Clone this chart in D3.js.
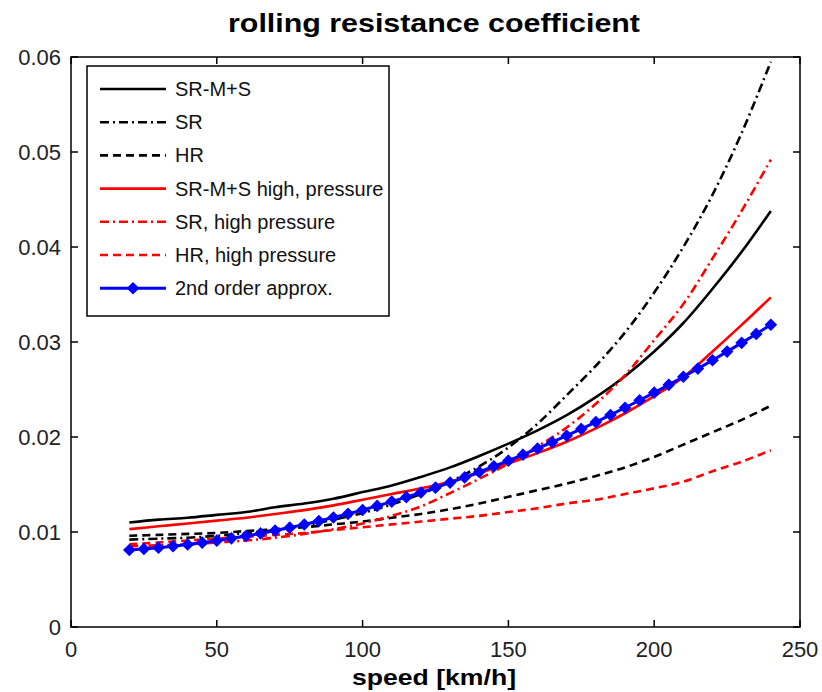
<!DOCTYPE html>
<html>
<head>
<meta charset="utf-8">
<script src="https://cdn.jsdelivr.net/npm/d3@7"></script>
<style>
  body { margin: 0; background: #fff; }
  svg { display: block; }
  text { font-family: "Liberation Sans", Arial, sans-serif; }
</style>
</head>
<body>
<svg id="chart" width="822" height="692"></svg>
<script>
// speed grid for the tyre curves [km/h]
const speeds = [20, 30, 40, 50, 60, 70, 80, 90, 100, 110, 120, 130, 140, 150, 160, 170, 180, 190, 200, 210, 220, 230, 240];

// rolling resistance coefficient per tyre model
const srMS   = [0.0110, 0.0113, 0.0115, 0.0118, 0.0121, 0.0126, 0.0130, 0.0135, 0.0142, 0.0149, 0.0158, 0.0168, 0.0180, 0.0193, 0.0207, 0.0223, 0.0242, 0.0264, 0.0290, 0.0320, 0.0356, 0.0395, 0.0438];
const sr     = [0.0092, 0.0093, 0.0094, 0.0096, 0.0099, 0.0102, 0.0107, 0.0113, 0.0120, 0.0129, 0.0140, 0.0153, 0.0169, 0.0189, 0.0214, 0.0244, 0.0275, 0.0310, 0.0352, 0.0400, 0.0455, 0.0520, 0.0595];
const hr     = [0.0096, 0.0097, 0.0098, 0.0099, 0.0101, 0.0103, 0.0105, 0.0108, 0.0111, 0.0115, 0.0119, 0.0124, 0.0130, 0.0137, 0.0144, 0.0151, 0.0159, 0.0168, 0.0179, 0.0192, 0.0205, 0.0218, 0.0233];
const srMSHp = [0.0103, 0.0106, 0.0109, 0.0112, 0.0115, 0.0119, 0.0123, 0.0128, 0.0134, 0.0140, 0.0146, 0.0153, 0.0162, 0.0172, 0.0183, 0.0195, 0.0209, 0.0225, 0.0243, 0.0263, 0.0290, 0.0318, 0.0347];
const srHp   = [0.0085, 0.0086, 0.0087, 0.0089, 0.0091, 0.0094, 0.0098, 0.0103, 0.0109, 0.0117, 0.0127, 0.0141, 0.0156, 0.0172, 0.0190, 0.0210, 0.0235, 0.0265, 0.0302, 0.0340, 0.0388, 0.0438, 0.0492];
const hrHp   = [0.0087, 0.0089, 0.0091, 0.0093, 0.0095, 0.0097, 0.0099, 0.0102, 0.0105, 0.0108, 0.0111, 0.0114, 0.0117, 0.0121, 0.0125, 0.0130, 0.0134, 0.0140, 0.0146, 0.0153, 0.0164, 0.0174, 0.0186];

// 2nd order approximation, sampled every 5 km/h
const approxSpeeds = [20, 25, 30, 35, 40, 45, 50, 55, 60, 65, 70, 75, 80, 85, 90, 95, 100, 105, 110, 115, 120, 125, 130, 135, 140, 145, 150, 155, 160, 165, 170, 175, 180, 185, 190, 195, 200, 205, 210, 215, 220, 225, 230, 235, 240];
const approx = [0.00810, 0.00822, 0.00835, 0.00851, 0.00868, 0.00888, 0.00909, 0.00933, 0.00958, 0.00985, 0.01015, 0.01046, 0.01079, 0.01115, 0.01152, 0.01191, 0.01232, 0.01275, 0.01320, 0.01367, 0.01416, 0.01467, 0.01520, 0.01575, 0.01632, 0.01691, 0.01751, 0.01814, 0.01879, 0.01945, 0.02014, 0.02085, 0.02157, 0.02232, 0.02308, 0.02387, 0.02467, 0.02549, 0.02634, 0.02720, 0.02808, 0.02899, 0.02991, 0.03085, 0.03181];

const seriesNames = ["SR-M+S", "SR", "HR", "SR-M+S high, pressure", "SR, high pressure", "HR, high pressure", "2nd order approx."];
const xTicks = [0, 50, 100, 150, 200, 250];
const yTicks = [0, 0.01, 0.02, 0.03, 0.04, 0.05, 0.06];

const titleText = "rolling resistance coefficient";
const xLabelText = "speed [km/h]";

const svg = d3.select("#chart");
const plotLeft = 71, plotRight = 800, plotTop = 57, plotBottom = 627;

const x = d3.scaleLinear().domain([0, 250]).range([plotLeft, plotRight]);
const y = d3.scaleLinear().domain([0, 0.06]).range([plotBottom, plotTop]);

const dashSolid = null, dashDashDot = "9,4,2,4", dashDashed = "8,5";
const styles = [
  { values: srMS,   color: "#000", dash: dashSolid },
  { values: sr,     color: "#000", dash: dashDashDot },
  { values: hr,     color: "#000", dash: dashDashed },
  { values: srMSHp, color: "#f00", dash: dashSolid },
  { values: srHp,   color: "#f00", dash: dashDashDot },
  { values: hrHp,   color: "#f00", dash: dashDashed }
];

const line = d3.line().x(d => x(d[0])).y(d => y(d[1])).curve(d3.curveCatmullRom);

const plot = svg.append("g");
styles.forEach(s => {
  plot.append("path")
    .datum(speeds.map((v, i) => [v, s.values[i]]))
    .attr("d", line)
    .attr("fill", "none")
    .attr("stroke", s.color)
    .attr("stroke-width", 2.6)
    .attr("stroke-dasharray", s.dash);
});

const marker = d3.symbol(d3.symbolDiamond2, 70);
const approxData = approxSpeeds.map((v, i) => [v, approx[i]]);
plot.append("path")
  .datum(approxData)
  .attr("d", d3.line().x(d => x(d[0])).y(d => y(d[1])))
  .attr("fill", "none")
  .attr("stroke", "#0000ff")
  .attr("stroke-width", 3);
plot.selectAll("path.marker")
  .data(approxData)
  .join("path")
  .attr("class", "marker")
  .attr("transform", d => `translate(${x(d[0])},${y(d[1])})`)
  .attr("d", marker)
  .attr("fill", "#0000ff")
  .attr("stroke", "#0000ff")
  .attr("stroke-width", 1.5);

// axes box with inward ticks on all four sides
const tickLen = 7;
const axisG = svg.append("g").attr("stroke", "#000").attr("stroke-width", 1.5);
axisG.append("rect")
  .attr("x", plotLeft).attr("y", plotTop)
  .attr("width", plotRight - plotLeft).attr("height", plotBottom - plotTop)
  .attr("fill", "none");

xTicks.forEach(t => {
  axisG.append("line").attr("x1", x(t)).attr("x2", x(t)).attr("y1", plotBottom).attr("y2", plotBottom - tickLen);
  axisG.append("line").attr("x1", x(t)).attr("x2", x(t)).attr("y1", plotTop).attr("y2", plotTop + tickLen);
});
yTicks.forEach(t => {
  axisG.append("line").attr("y1", y(t)).attr("y2", y(t)).attr("x1", plotLeft).attr("x2", plotLeft + tickLen);
  axisG.append("line").attr("y1", y(t)).attr("y2", y(t)).attr("x1", plotRight).attr("x2", plotRight - tickLen);
});

const tickFont = 22;
svg.append("g").selectAll("text")
  .data(xTicks).join("text")
  .attr("x", d => x(d))
  .attr("y", plotBottom + 30)
  .attr("text-anchor", "middle")
  .attr("font-size", tickFont)
  .attr("fill", "#222")
  .text(d => d3.format("")(d));

svg.append("g").selectAll("text")
  .data(yTicks).join("text")
  .attr("x", plotLeft - 10)
  .attr("y", d => y(d) + 8)
  .attr("text-anchor", "end")
  .attr("font-size", tickFont)
  .attr("fill", "#222")
  .text(d => d === 0 ? "0" : d3.format(".2f")(d));

svg.append("text")
  .attr("x", 434).attr("y", 32)
  .attr("text-anchor", "middle")
  .attr("font-size", 26)
  .attr("font-weight", "bold")
  .attr("textLength", 412)
  .attr("lengthAdjust", "spacingAndGlyphs")
  .text(titleText);

svg.append("text")
  .attr("x", 434).attr("y", 685)
  .attr("text-anchor", "middle")
  .attr("font-size", 22)
  .attr("font-weight", "bold")
  .attr("textLength", 164)
  .attr("lengthAdjust", "spacingAndGlyphs")
  .text(xLabelText);

// legend
const legend = svg.append("g");
const lgX = 87, lgY = 66, lgW = 302, lgH = 250, rowH = 33.2;
legend.append("rect")
  .attr("x", lgX).attr("y", lgY).attr("width", lgW).attr("height", lgH)
  .attr("fill", "#fff").attr("stroke", "#000").attr("stroke-width", 1.5);

const legendStyles = styles.concat([{ color: "#0000ff", dash: null, marker: true }]);
legendStyles.forEach((s, i) => {
  const cy = lgY + 23 + i * rowH;
  legend.append("line")
    .attr("x1", lgX + 13).attr("x2", lgX + 79)
    .attr("y1", cy).attr("y2", cy)
    .attr("stroke", s.color)
    .attr("stroke-width", s.marker ? 3 : 2.6)
    .attr("stroke-dasharray", s.dash);
  if (s.marker) {
    legend.append("path")
      .attr("transform", `translate(${lgX + 46},${cy})`)
      .attr("d", marker)
      .attr("fill", "#0000ff").attr("stroke", "#0000ff").attr("stroke-width", 1.5);
  }
  legend.append("text")
    .attr("x", lgX + 88).attr("y", cy + 7)
    .attr("font-size", 20)
    .attr("fill", "#111")
    .text(seriesNames[i]);
});
</script>
</body>
</html>
